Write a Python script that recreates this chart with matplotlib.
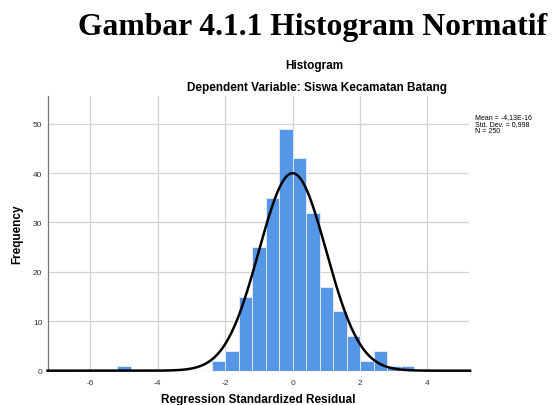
import numpy as np
import matplotlib
matplotlib.use("Agg")
import matplotlib.pyplot as plt

# histogram of regression standardized residuals
bin_left = [-5.2, -2.4, -2.0, -1.6, -1.2, -0.8, -0.4, 0.0, 0.4, 0.8,
            1.2, 1.6, 2.0, 2.4, 2.8, 3.2]
counts = [1, 2, 4, 15, 25, 35, 49, 43, 32, 17, 12, 7, 2, 4, 1, 1]
bin_width = 0.4
x_ticks = [-6, -4, -2, 0, 2, 4]
y_ticks = [0, 10, 20, 30, 40, 50]

mean = -4.13e-16
std = 0.998
n = 250
stats_text = "Mean = -4,13E-16\nStd. Dev. = 0,998\nN = 250"

sans = "Liberation Sans"

fig = plt.figure(figsize=(5.55, 4.06), dpi=100)
ax = fig.add_axes([0.0865, 0.0845, 0.7585, 0.6765])

ax.bar(bin_left, counts, width=bin_width, align="edge",
       color="#5596e6", edgecolor="#e8f0fb", linewidth=0.6, zorder=2)

xs = np.linspace(-7.3, 5.3, 600)
pdf = np.exp(-0.5 * ((xs - mean) / std) ** 2) / (std * np.sqrt(2 * np.pi))
ax.plot(xs, n * bin_width * pdf, color="black", lw=1.8, zorder=3,
        clip_on=False, solid_capstyle="butt")

ax.set_xlim(-7.25, 5.23)
ax.set_ylim(0, 55.6)
ax.set_xticks(x_ticks)
ax.set_yticks(y_ticks)
ax.set_xticklabels([str(t) for t in x_ticks], fontsize=6, family=sans, color="#333333")
ax.set_yticklabels([str(t) for t in y_ticks], fontsize=6, family=sans, color="#333333")
ax.tick_params(length=0, pad=6)
ax.tick_params(axis="y", pad=4)
ax.grid(True, color="#d4d4d4", lw=0.9, zorder=0)
ax.set_axisbelow(True)
for side in ["top", "right"]:
    ax.spines[side].set_visible(False)
ax.spines["left"].set_color("#777777")
ax.spines["left"].set_linewidth(0.9)
ax.spines["bottom"].set_visible(False)

ax.set_xlabel("Regression Standardized Residual", fontsize=8.5, family=sans,
              fontweight="bold", labelpad=5)
ax.set_ylabel("Frequency", fontsize=8.5, family=sans, fontweight="bold", labelpad=7)

fig.text(0.5635, 0.932, "Gambar 4.1.1 Histogram Normatif", ha="center", va="center",
         fontsize=22.8, family="Liberation Serif", fontweight="bold")
fig.text(0.566, 0.837, "Histogram", ha="center", va="center",
         fontsize=8.5, family=sans, fontweight="bold")
fig.text(0.572, 0.783, "Dependent Variable: Siswa Kecamatan Batang", ha="center",
         va="center", fontsize=8.5, family=sans, fontweight="bold")
fig.text(0.856, 0.718, stats_text, ha="left", va="top", fontsize=5,
         family=sans, linespacing=0.95)

fig.savefig("out.png", dpi=100)
